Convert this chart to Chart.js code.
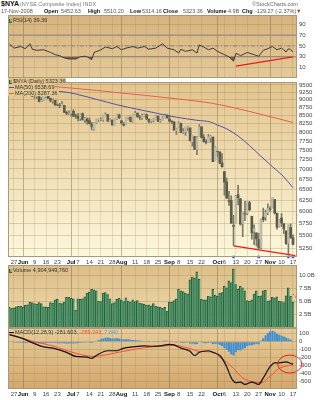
<!DOCTYPE html>
<html>
<head>
<meta charset="utf-8">
<title>$NYA daily</title>
<script src="https://cdn.jsdelivr.net/npm/chart.js@4.4.1/dist/chart.umd.min.js"></script>
<style>
  html, body { margin: 0; padding: 0; background: #fff; }
  #page { position: relative; width: 322px; height: 400px; overflow: hidden; font-family: "Liberation Sans", Arial, sans-serif; }
  #page canvas { position: absolute; left: 0; }
  .txt { position: absolute; top: 8px; white-space: nowrap; font-size: 5.5px; line-height: 6px; color: #555; z-index: 2; }
  b.txt { color: #111; }
  .leg { position: absolute; left: 8px; white-space: nowrap; font-size: 5.5px; line-height: 6px; height: 6px; color: #333; z-index: 2; padding: 0 1px; }
  .sw { display: inline-block; width: 5px; height: 1px; vertical-align: middle; margin-right: 1px; }
  .ico { display: inline-block; width: 2px; height: 3px; border-left: 1px solid #35603a; border-bottom: 1px solid #35603a; background: #8db06a; margin-right: 1px; vertical-align: middle; }
</style>
</head>
<body>
<div id="page">
  <canvas id="cRsi" width="322" height="63" style="top:15px"></canvas>
  <canvas id="cPrice" width="322" height="190" style="top:78px"></canvas>
  <canvas id="cVol" width="322" height="63" style="top:265px"></canvas>
  <canvas id="cMacd" width="322" height="72" style="top:328px"></canvas>

  <!-- header -->
  <b class="txt" style="left:1px;top:0;font-size:7px;line-height:8px">$NYA</b>
  <span class="txt" style="left:20px;top:1px;color:#777">(NYSE Composite Index) INDX</span>
  <span class="txt" style="left:252px;top:1px;color:#666">©StockCharts.com</span>

  <span class="txt" style="left:1px">17-Nov-2008</span>
  <b class="txt" style="left:44px">Open</b><span class="txt" style="left:61px">5452.63</span>
  <b class="txt" style="left:88px">High</b><span class="txt" style="left:104px">5510.20</span>
  <b class="txt" style="left:130px">Low</b><span class="txt" style="left:142px">5314.16</span>
  <b class="txt" style="left:163px">Close</b><span class="txt" style="left:183px">5323.36</span>
  <b class="txt" style="left:207px">Volume</b><span class="txt" style="left:228px">4.9B</span>
  <b class="txt" style="left:242px">Chg</b><span class="txt" style="left:255px">-129.27 (-2.37%)</span>
  <span class="txt" style="left:296px;color:#d02020">▼</span>

  <!-- panel legends -->
  <div class="leg" style="top:17px"><span class="ico"></span>RSI(14) 39.36</div>
  <div class="leg" style="top:78px;background:#e2c48d"><span class="ico"></span>$NYA (Daily) 5323.36</div>
  <div class="leg" style="top:84px;background:#e2c58f"><span class="sw" style="background:#5252a8"></span>MA(50) 6538.69</div>
  <div class="leg" style="top:90px;background:#e3c791"><span class="sw" style="background:#e8604c"></span>MA(200) 8287.36</div>
  <div class="leg" style="top:267px"><span class="ico"></span>Volume 4,904,949,760</div>
  <div class="leg" style="top:329px"><span class="sw" style="background:#111"></span>MACD(12,26,9) -281.603, <span style="color:#f05030">-289.243,</span> <span style="color:#5aa0d8">7.640</span></div>
</div>

<script>
/* ---------- data: one entry per trading day, 22-May-2008 (day 0) .. 17-Nov-2008 (day 124) ---------- */

// x axis week / month labels
const tickDay  = [2, 6, 11, 16, 21, 27, 30, 35, 40, 45, 49, 55, 60, 65, 70, 74, 79, 84, 91, 94, 99, 104, 109, 114, 119, 124];
const tickText = ['27', 'Jun', '9', '16', '23', 'Jul', '7', '14', '21', '28', 'Aug', '11', '18', '25', 'Sep', '8', '15', '22', 'Oct', '6', '13', '20', '27', 'Nov', '10', '17'];
const monthDay = [6, 27, 49, 70, 91, 114];

const openP = [
  9326, 9313, 9213, 9286, 9313, 9367,
  9380, 9286, 9219, 9233, 9380, 9119, 9099, 9099, 8951, 8985, 9099, 9119, 9045, 8958, 8985, 8837, 8824, 8811, 8817, 8596, 8569,
  8575, 8635, 8487, 8481, 8413, 8555, 8366, 8393, 8346, 8239, 8080, 8286, 8366, 8386, 8359, 8499, 8532, 8326, 8359, 8213, 8399, 8519,
  8337, 8239, 8239, 8436, 8449, 8318, 8508, 8574, 8462, 8429, 8495, 8528, 8390, 8324, 8357, 8396, 8482, 8324, 8350, 8423, 8515,
  8391, 8320, 8306, 8039, 8143, 8261, 8000, 8013, 8124, 8125, 7722, 7872, 7521, 7885, 8158, 7846, 7729, 7716, 7833, 7859, 7235,
  7460, 7447, 7158, 6933, 6680, 6244, 6244, 5701, 5770, 6377, 6282, 5745, 5953, 5960, 6194, 5896, 5580, 5549, 5419, 5264, 5878, 5878, 5966,
  6060, 6078, 6266, 5960, 5684, 5859, 5740, 5590, 5340, 5659, 5453
];
const highP = [
  9353, 9313, 9300, 9320, 9420, 9407,
  9380, 9333, 9300, 9414, 9380, 9179, 9152, 9119, 9072, 9119, 9139, 9159, 9045, 9032, 8985, 8864, 8884, 8945, 8817, 8630, 8643,
  8635, 8682, 8548, 8561, 8561, 8581, 8447, 8427, 8427, 8292, 8286, 8392, 8392, 8432, 8512, 8585, 8539, 8399, 8359, 8399, 8545, 8545,
  8350, 8285, 8442, 8482, 8449, 8521, 8633, 8574, 8502, 8548, 8554, 8548, 8390, 8383, 8416, 8502, 8482, 8383, 8456, 8548, 8521,
  8502, 8346, 8306, 8111, 8306, 8267, 8104, 8143, 8183, 8125, 7891, 7872, 7872, 8223, 8158, 7930, 7787, 7937, 7904, 7859, 7592,
  7473, 7447, 7402, 6933, 6775, 6453, 6352, 5916, 6358, 6598, 6288, 5985, 6225, 6225, 6225, 5896, 5716, 5555, 5543, 5834, 6072, 6028, 6166,
  6104, 6304, 6266, 5966, 5828, 5953, 5740, 5590, 5715, 5734, 5510
];
const lowP = [
  9273, 9192, 9192, 9233, 9300, 9353,
  9226, 9179, 9186, 9233, 9105, 9045, 9045, 8931, 8938, 8978, 9058, 9045, 8931, 8891, 8824, 8811, 8744, 8811, 8596, 8522, 8536,
  8481, 8474, 8413, 8333, 8346, 8366, 8292, 8232, 8239, 8064, 8053, 8253, 8319, 8346, 8319, 8485, 8319, 8319, 8206, 8213, 8379, 8406,
  8239, 8180, 8239, 8390, 8304, 8298, 8502, 8442, 8370, 8383, 8475, 8370, 8278, 8285, 8304, 8396, 8311, 8291, 8350, 8423, 8416,
  8300, 8248, 8059, 7935, 8130, 7987, 7961, 7909, 8039, 7748, 7605, 7514, 7371, 7885, 7833, 7716, 7670, 7716, 7716, 7189, 7235,
  7325, 7133, 7049, 6364, 6295, 6130, 5745, 5302, 5770, 6143, 5707, 5473, 5802, 5928, 6017, 5425, 5320, 5289, 5239, 5239, 5778, 5809, 5928,
  5997, 6078, 5941, 5628, 5672, 5678, 5534, 5321, 5121, 5440, 5314
];
const closeP = [
  9313, 9213, 9280, 9313, 9367, 9380,
  9280, 9233, 9226, 9407, 9119, 9119, 9099, 8945, 8971, 9112, 9112, 9045, 8958, 8991, 8831, 8831, 8811, 8851, 8596, 8563, 8576,
  8635, 8474, 8481, 8413, 8555, 8366, 8420, 8326, 8252, 8158, 8279, 8379, 8386, 8386, 8499, 8532, 8326, 8366, 8213, 8399, 8539, 8426,
  8278, 8206, 8442, 8475, 8318, 8515, 8574, 8469, 8442, 8495, 8528, 8396, 8324, 8377, 8396, 8488, 8324, 8350, 8416, 8541, 8429,
  8326, 8313, 8059, 8098, 8261, 7987, 8020, 8150, 8163, 7755, 7891, 7514, 7846, 8158, 7846, 7729, 7709, 7865, 7885, 7189, 7579,
  7454, 7152, 7056, 6674, 6295, 6225, 5751, 5682, 6339, 6307, 5732, 5979, 5941, 6225, 6036, 5555, 5636, 5431, 5258, 5834, 5822, 5972, 6066,
  6047, 6298, 5966, 5665, 5822, 5753, 5628, 5340, 5709, 5453, 5323
];

// moving averages (read at a few days, the line joins them)
const ma50Day  = [0, 15, 23, 29, 38, 47, 56, 64, 73, 82, 88, 91, 95, 100, 105, 110, 115, 120, 124];
const ma50Val  = [9280, 9290, 9270, 9190, 9015, 8840, 8695, 8577, 8447, 8355, 8300, 8210, 8100, 7890, 7620, 7330, 7060, 6800, 6539];
const ma200Day = [0, 27, 38, 46, 60, 74, 88, 103, 124];
const ma200Val = [9590, 9390, 9313, 9246, 9140, 9024, 8894, 8660, 8287];

// hand drawn support line and the blue markers on the price panel
const supDay  = [98, 125];
const supVal  = [5295, 5112];
const markDay = [98, 109, 122, 124];

// RSI(14)
const rsiDay = [0, 2, 5, 7, 9, 10, 12, 15, 18, 20, 22, 24, 26, 29, 31, 33, 34, 36, 37, 40, 42, 45, 47, 49, 51, 54, 56, 59, 61, 64,
  67, 69, 72, 74, 75, 77, 80, 82, 83, 85, 87, 89, 91, 93, 96, 98, 99, 100, 101, 104, 107, 109, 111, 113, 115, 117, 119, 121, 122, 123, 124];
const rsiVal = [54, 46, 49, 45, 54, 44, 42, 43, 38, 34, 32, 28, 26, 26, 30, 31, 30, 25, 38, 43, 48, 45, 49, 43, 46, 49, 46, 49, 44, 46,
  54, 46, 43, 37, 44, 40, 43, 37, 52, 48, 43, 46, 40, 36, 30, 22, 36, 35, 32, 38, 34, 31, 42, 45, 49, 43, 46, 39, 45, 43, 39.36];
const rsiLevels   = [70, 50, 30];
const rsiTrendDay = [99, 124];
const rsiTrendVal = [13, 30];

// volume, billions of shares
const volume = [
  3.9, 3.7, 3.8, 4.0, 4.1, 4.1,
  4.0, 4.3, 4.4, 4.9, 4.8, 4.6, 4.5, 4.8, 4.6, 4.0, 4.0, 3.9, 4.8, 4.7, 5.3, 5.4, 4.7, 4.6, 4.9, 5.8, 5.8,
  5.6, 5.5, 3.4, 5.5, 5.4, 5.5, 5.9, 6.6, 6.8, 7.3, 7.2, 7.0, 5.1, 5.0, 6.6, 6.7, 6.3, 5.5, 4.6, 4.8, 5.4, 5.6,
  5.3, 5.0, 5.7, 5.1, 4.9, 5.3, 5.0, 5.2, 4.7, 4.6, 4.5, 4.3, 4.4, 4.2, 4.6, 4.1, 4.0, 3.9, 3.7, 3.9, 3.2,
  4.9, 4.9, 5.2, 5.5, 7.3, 7.0, 6.9, 6.6, 6.4, 9.1, 9.6, 9.4, 10.6, 9.2, 5.4, 5.3, 5.3, 6.0, 5.9, 7.3, 6.2,
  6.0, 6.6, 6.7, 7.9, 7.6, 8.9, 8.6, 11.2, 8.2, 7.3, 7.9, 7.6, 7.0, 5.2, 5.1, 5.3, 6.4, 7.0, 6.0, 6.1, 7.0, 7.1, 5.1,
  5.2, 5.8, 5.7, 5.9, 5.1, 5.0, 4.8, 6.1, 7.6, 6.0, 4.9
];
const volTrendDay = [124, 125.6];
const volTrendVal = [6.4, 5.6];

// MACD(12,26,9)
const macdDay = [0, 5, 10, 15, 19, 25, 29, 34, 36, 38, 43, 47, 50, 54, 59, 62, 66, 70, 72, 75,
  79, 81, 83, 87, 89, 92, 95, 97, 99, 101, 103, 106, 109, 111, 114, 116, 118, 121, 123, 124];
const macdVal = [88, 48, -12, -65, -80, -133, -185, -193, -209, -173, -113, -113, -80, -65, -53, -57, -53, -33, -40, -80,
  -120, -173, -133, -113, -133, -173, -313, -454, -514, -506, -535, -506, -535, -454, -313, -265, -265, -253, -273, -281.6];
const sigDay = [0, 10, 19, 29, 37, 40, 44, 49, 54, 59, 66, 72, 78, 83, 89, 93, 98, 102, 107, 110, 114, 118, 124];
const sigVal = [90, 7, -53, -145, -185, -175, -155, -125, -100, -75, -58, -45, -78, -120, -133, -213, -334, -454, -506, -514, -434, -334, -289.2];
const histVal = [
  -5, -8, -10, -12, -14, -14,
  -16, -18, -15, -12, -18, -20, -20, -22, -25, -22, -18, -15, -15, -14, -17, -19, -20, -18, -22, -24, -22,
  -20, -22, -20, -18, -14, -12, -12, -10, -12, -16, -4, 10, 22, 32, 42, 50, 52, 45, 40, 42, 44, 40,
  33, 30, 32, 30, 25, 22, 20, 18, 14, 10, 8, 5, 2, 0, 3, 4, 2, 5, 10, 14, 12,
  6, 2, -5, -12, -6, -14, -16, -14, -10, -22, -25, -32, -30, -8, -10, -18, -20, -16, -12, -30, -26,
  -28, -40, -55, -80, -100, -125, -160, -172, -130, -105, -110, -90, -80, -55, -45, -45, -35, -30, -32, 15, 45, 80, 110,
  128, 136, 125, 100, 88, 75, 65, 52, 40, 25, 7.64
];
const ringDay = 122.6;
const ringVal = -280;

// axis ranges and tick labels
const xMin = -0.62, xMax = 125.75;
const rsiTicks   = [10, 30, 50, 70, 90];
const priceTicks = [5250, 5500, 5750, 6000, 6250, 6500, 6750, 7000, 7250, 7500, 7750, 8000, 8250, 8500, 8750, 9000, 9250, 9500];
const volTicks   = [2.5, 5, 7.5, 10];
const macdTicks  = [100, 0, -100, -200, -300, -400, -500];

/* ---------- chart setup ---------- */
const FONT = '"Liberation Sans", Arial, sans-serif';
Chart.defaults.font.family = FONT;
Chart.defaults.animation = false;
Chart.defaults.plugins.legend.display = false;
Chart.defaults.plugins.tooltip.enabled = false;
Chart.defaults.elements.point.radius = 0;

const pts = (xs, ys) => xs.map((x, k) => ({ x, y: ys[k] }));
const isMonth = c => !!(c && c.tick && monthDay.includes(c.tick.value));

// tan panel background with thin frame
const panelBg = {
  id: 'panelBg',
  beforeDraw(chart, args, o) {
    const { ctx, chartArea: a } = chart;
    const g = ctx.createLinearGradient(0, a.top, 0, a.bottom);
    g.addColorStop(0, o.top);
    g.addColorStop(1, o.bottom);
    ctx.save();
    ctx.fillStyle = g;
    ctx.fillRect(a.left, a.top, a.right - a.left, a.bottom - a.top);
    ctx.restore();
  },
  afterDraw(chart) {
    const { ctx, chartArea: a } = chart;
    ctx.save();
    ctx.strokeStyle = '#a99a7c';
    ctx.lineWidth = 1;
    ctx.strokeRect(a.left + 0.5, a.top + 0.5, a.right - a.left - 1, a.bottom - a.top - 1);
    ctx.restore();
  }
};

// red ring drawn round the MACD cross
const ring = {
  id: 'ring',
  afterDatasetsDraw(chart, args, o) {
    if (!o.on) return;
    const { ctx, scales: { x, y } } = chart;
    ctx.save();
    ctx.strokeStyle = '#e8201c';
    ctx.lineWidth = 1;
    ctx.beginPath();
    ctx.ellipse(x.getPixelForValue(ringDay), y.getPixelForValue(ringVal), 12, 9, 0, 0, Math.PI * 2);
    ctx.stroke();
    ctx.restore();
  }
};

function xAxis(showLabels) {
  return {
    type: 'linear', min: xMin, max: xMax, offset: false,
    afterBuildTicks: s => { s.ticks = tickDay.map(v => ({ value: v })); },
    afterFit: s => { s.height = showLabels ? 11 : 0; s.paddingLeft = 0; s.paddingRight = 0; },
    grid: { drawTicks: false, offset: false, color: c => isMonth(c) ? 'rgba(120,95,60,0.42)' : 'rgba(150,120,75,0.2)' },
    border: { display: false },
    ticks: {
      display: showLabels, autoSkip: false, maxRotation: 0, minRotation: 0, padding: 2,
      color: c => isMonth(c) ? '#111' : '#444',
      font: c => ({ family: FONT, size: 6, weight: isMonth(c) ? 'bold' : 'normal' }),
      callback: (v, i) => tickText[i]
    }
  };
}

function yAxis(type, min, max, vals, fmt) {
  return {
    type, position: 'right', min, max, beginAtZero: false,
    afterBuildTicks: s => { s.ticks = vals.map(v => ({ value: v })); },
    afterFit: s => { s.width = 25; s.paddingTop = 0; s.paddingBottom = 0; },
    grid: { drawTicks: false, color: 'rgba(150,120,75,0.28)' },
    border: { display: false },
    ticks: { padding: 2, autoSkip: false, color: '#444', font: { family: FONT, size: 6 }, callback: fmt }
  };
}

function baseOptions(x, y, bg, extra) {
  return {
    responsive: false,
    layout: { padding: { left: 8, right: 0, top: 0, bottom: 0 } },
    scales: { x, y },
    plugins: Object.assign({ panelBg: bg }, extra || {})
  };
}

/* ---------- RSI ---------- */
new Chart(document.getElementById('cRsi'), {
  type: 'line',
  data: {
    datasets: [
      ...rsiLevels.map(v => ({
        data: [{ x: xMin, y: v }, { x: xMax, y: v }],
        borderColor: '#8c8496', borderWidth: 1, borderDash: v === 50 ? [4, 2, 1, 2] : [], order: 3
      })),
      {
        data: pts(rsiDay, rsiVal), borderColor: '#3c3c3c', borderWidth: 1, order: 1,
        fill: { target: { value: 30 }, above: 'rgba(0,0,0,0)', below: '#8e5a3e' }
      },
      { data: pts(rsiTrendDay, rsiTrendVal), borderColor: '#e81c1c', borderWidth: 1.3, order: 0 }
    ]
  },
  options: baseOptions(xAxis(false), yAxis('linear', -9, 107, rsiTicks, v => String(v)), { top: '#d7b37c', bottom: '#e3ca98' }),
  plugins: [panelBg]
});

/* ---------- price ---------- */
const priceMin = 5085, priceMax = 9600;
new Chart(document.getElementById('cPrice'), {
  type: 'line',
  data: {
    datasets: [
      { type: 'bar', data: highP.map((h, k) => ({ x: k, y: [lowP[k], h] })), backgroundColor: '#7a7968', barThickness: 1, grouped: false, order: 3 },
      {
        type: 'bar', data: openP.map((o, k) => ({ x: k, y: [o, closeP[k]] })), barThickness: 2, grouped: false, order: 2,
        backgroundColor: c => closeP[c.dataIndex] >= openP[c.dataIndex] ? '#bcbaa5' : '#5c5b48'
      },
      { data: pts(ma200Day, ma200Val), borderColor: '#e8604c', borderWidth: 1, cubicInterpolationMode: 'monotone', order: 1 },
      { data: pts(ma50Day, ma50Val), borderColor: '#5252a8', borderWidth: 1, cubicInterpolationMode: 'monotone', order: 1 },
      { data: pts(supDay, supVal), borderColor: '#e81c1c', borderWidth: 1.3, order: 0 },
      {
        data: markDay.map(d => ({ x: d, y: priceMin })), showLine: false, clip: false, order: 0,
        pointStyle: 'rect', pointRadius: 1.8, pointBackgroundColor: '#2f5fe8', pointBorderWidth: 0
      }
    ]
  },
  options: baseOptions(xAxis(true), yAxis('logarithmic', priceMin, priceMax, priceTicks, v => String(v)), { top: '#e2c48d', bottom: '#fcf8dc' }),
  plugins: [panelBg]
});

/* ---------- volume ---------- */
new Chart(document.getElementById('cVol'), {
  type: 'line',
  data: {
    datasets: [
      {
        type: 'bar', data: volume.map((v, k) => ({ x: k, y: v })), barPercentage: 1, categoryPercentage: 1, order: 2,
        backgroundColor: '#4f9a6b', borderColor: '#2c5d40', borderWidth: { top: 1, left: 1, right: 0, bottom: 0 }, borderSkipped: false
      },
      { data: pts(volTrendDay, volTrendVal), borderColor: '#e81c1c', borderWidth: 1, borderDash: [1, 1], order: 0 }
    ]
  },
  options: baseOptions(xAxis(false), yAxis('linear', 0, 11.9, volTicks, v => v.toFixed(1) + 'B'), { top: '#dcbd87', bottom: '#efdcb0' }),
  plugins: [panelBg]
});

/* ---------- MACD ---------- */
new Chart(document.getElementById('cMacd'), {
  type: 'line',
  data: {
    datasets: [
      { type: 'bar', data: histVal.map((v, k) => ({ x: k, y: v })), barPercentage: 1, categoryPercentage: 0.9, backgroundColor: '#3f8fd2', order: 3 },
      { data: pts(sigDay, sigVal), borderColor: '#ff4a3a', borderWidth: 1, cubicInterpolationMode: 'monotone', order: 1 },
      { data: pts(macdDay, macdVal), borderColor: '#111', borderWidth: 1.2, cubicInterpolationMode: 'monotone', order: 0 }
    ]
  },
  options: baseOptions(xAxis(true), yAxis('linear', -593, 172, macdTicks, v => String(v)), { top: '#e6cc98', bottom: '#d3a86e' }, { ring: { on: true } }),
  plugins: [panelBg, ring]
});
</script>
</body>
</html>
